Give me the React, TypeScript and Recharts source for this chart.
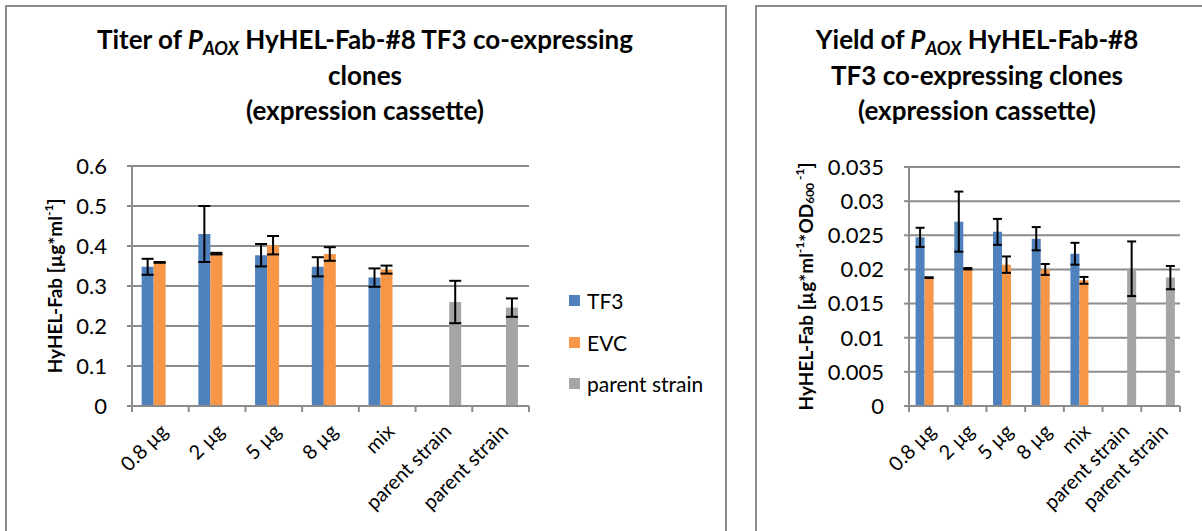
import React from "react";
import { BarChart, Bar, XAxis, YAxis, CartesianGrid, ErrorBar } from "recharts";

const categories = ["0.8 µg", "2 µg", "5 µg", "8 µg", "mix", "parent strain", "parent strain"];

// titer [µg/ml]
const titerTF3 = [0.348, 0.43, 0.377, 0.348, 0.321, null, null];
const titerTF3Err = [0.02, 0.07, 0.028, 0.024, 0.023, null, null];
const titerEVC = [0.359, 0.381, 0.402, 0.38, 0.341, null, null];
const titerEVCErr = [0.001, 0.002, 0.023, 0.017, 0.01, null, null];
const titerParent = [0.002, 0.002, 0.002, 0.002, 0.002, 0.26, 0.246];
const titerParentErr = [null, null, null, null, null, 0.053, 0.023];
const titerTicks = [0, 0.1, 0.2, 0.3, 0.4, 0.5, 0.6];

// yield [µg/ml/OD600]
const yieldTF3 = [0.0247, 0.027, 0.0255, 0.0245, 0.0223, null, null];
const yieldTF3Err = [0.0014, 0.0044, 0.0019, 0.0017, 0.0016, null, null];
const yieldEVC = [0.0188, 0.0201, 0.0207, 0.02, 0.0184, null, null];
const yieldEVCErr = [0.00005, 0.0001, 0.0012, 0.0008, 0.0005, null, null];
const yieldParent = [0.0001, 0.0001, 0.0001, 0.0001, 0.0001, 0.0201, 0.0188];
const yieldParentErr = [null, null, null, null, null, 0.004, 0.0017];
const yieldTicks = [0, 0.005, 0.01, 0.015, 0.02, 0.025, 0.03, 0.035];

const BLUE = "#4F81BD";
const ORANGE = "#F79646";
const GRAY = "#A5A5A5";
const LINE = "#8c8c8c";
const FONT = "Lato, 'DejaVu Sans', sans-serif";

function build(tf3, tf3e, evc, evce, par, pare) {
  return categories.map((c, i) => {
    const row: any = { name: c };
    if (tf3[i] != null) { row.tf3 = tf3[i]; row.tf3Err = tf3e[i]; }
    if (evc[i] != null) { row.evc = evc[i]; row.evcErr = evce[i]; }
    if (par[i] != null) row.parent = par[i];
    if (pare[i] != null) row.parentErr = pare[i];
    return row;
  });
}

const titerData = build(titerTF3, titerTF3Err, titerEVC, titerEVCErr, titerParent, titerParentErr);
const yieldData = build(yieldTF3, yieldTF3Err, yieldEVC, yieldEVCErr, yieldParent, yieldParentErr);

function CatTick(props: any) {
  const { x, y, payload, index, visibleTicksCount, bw } = props;
  const half = payload && payload.offset ? payload.offset : bw / 2;
  const tx = x + 3;
  const ty = y + 21;
  return (
    <g>
      <line x1={x - half} x2={x - half} y1={y} y2={y + 6} stroke={LINE} strokeWidth={2} />
      {index === visibleTicksCount - 1 && (
        <line x1={x + half} x2={x + half} y1={y} y2={y + 6} stroke={LINE} strokeWidth={2} />
      )}
      <text
        x={tx}
        y={ty}
        transform={`rotate(-45 ${tx} ${ty})`}
        textAnchor="end"
        dominantBaseline="central"
        fontSize={20}
        fontFamily={FONT}
        fill="#000"
      >
        {payload.value}
      </text>
    </g>
  );
}

function YTitle(props: any) {
  const { viewBox, cx, yield: isYield } = props;
  const tx = viewBox.x + cx;
  const ty = viewBox.y + viewBox.height / 2;
  return (
    <text
      x={tx}
      y={ty}
      transform={`rotate(-90 ${tx} ${ty})`}
      textAnchor="middle"
      dominantBaseline="central"
      fontSize={19}
      fontWeight={700}
      fontFamily={FONT}
      fill="#000"
    >
      HyHEL-Fab [µg*ml
      <tspan dy={-6} fontSize={12}>-1</tspan>
      {isYield ? (
        <>
          <tspan dy={6}>*OD</tspan>
          <tspan dy={4} fontSize={12}>600</tspan>
          <tspan dy={-10} fontSize={12}> -1</tspan>
          <tspan dy={6}>]</tspan>
        </>
      ) : (
        <tspan dy={6}>]</tspan>
      )}
    </text>
  );
}

function Title({ lines, left, width }) {
  return (
    <div
      style={{
        position: "absolute",
        left,
        top: 22,
        width,
        textAlign: "center",
        fontFamily: FONT,
        fontWeight: 700,
        fontSize: 26,
        lineHeight: "35.5px",
        color: "#000",
      }}
    >
      {lines.map((l, i) => (
        <div key={i} style={{ whiteSpace: "nowrap" }}>{l}</div>
      ))}
    </div>
  );
}

const Paox = () => (
  <>
    <i>P</i>
    <span style={{ fontSize: "0.7em", verticalAlign: "-0.35em", lineHeight: 0, fontStyle: "italic" }}>AOX</span>
  </>
);

function Chart({ data, ticks, domain, yWidth, marginRight, top, width, errW, cx, isYield, fmt }) {
  return (
    <BarChart
      width={width}
      height={531}
      data={data}
      margin={{ top, right: marginRight, bottom: 0, left: 0 }}
      barCategoryGap="17%"
      barGap={0}
    >
      <CartesianGrid vertical={false} stroke={LINE} strokeWidth={2} />
      <XAxis
        dataKey="name"
        height={531 - 406}
        axisLine={{ stroke: LINE, strokeWidth: 2 }}
        tickLine={false}
        tickSize={0}
        tickMargin={0}
        interval={0}
        tick={<CatTick bw={(width - yWidth - marginRight) / categories.length} />}
      />
      <YAxis
        width={yWidth}
        domain={domain}
        ticks={ticks}
        interval={0}
        tickFormatter={fmt}
        axisLine={{ stroke: LINE, strokeWidth: 2 }}
        tickLine={{ stroke: LINE, strokeWidth: 2 }}
        tickSize={5}
        tickMargin={20}
        tick={{ fontSize: 22, fontFamily: FONT, fill: "#000" }}
        label={<YTitle cx={cx} yield={isYield} />}
      />
      <Bar dataKey="tf3" fill={BLUE} isAnimationActive={false}>
        <ErrorBar dataKey="tf3Err" width={errW} stroke="#000" strokeWidth={2} direction="y" />
      </Bar>
      <Bar dataKey="evc" fill={ORANGE} isAnimationActive={false}>
        <ErrorBar dataKey="evcErr" width={errW} stroke="#000" strokeWidth={2} direction="y" />
      </Bar>
      <Bar dataKey="parent" fill={GRAY} isAnimationActive={false}>
        <ErrorBar dataKey="parentErr" width={errW} stroke="#000" strokeWidth={2} direction="y" />
      </Bar>
    </BarChart>
  );
}

const legendItems = [
  { label: "TF3", color: BLUE },
  { label: "EVC", color: ORANGE },
  { label: "parent strain", color: GRAY },
];

export default function App() {
  return (
    <div
      style={{
        position: "absolute",
        left: 0,
        top: 0,
        width: 1202,
        height: 531,
        overflow: "hidden",
        background: "#fff",
      }}
    >
      <div style={{ position: "absolute", left: 5, top: 5, width: 718, height: 600, border: `2px solid ${LINE}` }} />
      <div style={{ position: "absolute", left: 755, top: 5, width: 500, height: 600, border: `2px solid ${LINE}` }} />

      <Title
        left={5}
        width={720}
        lines={[
          <>Titer of <Paox /> HyHEL-Fab-#8 TF3 co-expressing</>,
          "clones",
          "(expression cassette)",
        ]}
      />
      <Title
        left={757}
        width={440}
        lines={[
          <>Yield of <Paox /> HyHEL-Fab-#8</>,
          "TF3 co-expressing clones",
          "(expression cassette)",
        ]}
      />

      <div style={{ position: "absolute", left: 0, top: 0 }}>
        <Chart
          data={titerData}
          ticks={titerTicks}
          domain={[0, 0.6]}
          yWidth={132}
          marginRight={191}
          top={166}
          width={720}
          errW={6}
          cx={54}
          isYield={false}
          fmt={(v) => String(v)}
        />
      </div>
      <div style={{ position: "absolute", left: 740, top: 0 }}>
        <Chart
          data={yieldData}
          ticks={yieldTicks}
          domain={[0, 0.035]}
          yWidth={169}
          marginRight={22}
          top={167}
          width={462}
          errW={4.5}
          cx={65}
          isYield={true}
          fmt={(v) => String(v)}
        />
      </div>

      <div style={{ position: "absolute", left: 569, top: 280, fontFamily: FONT, fontSize: 21 }}>
        {legendItems.map((it) => (
          <div key={it.label} style={{ display: "flex", alignItems: "center", height: 41.5, whiteSpace: "nowrap" }}>
            <div style={{ width: 11, height: 11, background: it.color, marginRight: 7 }} />
            <span>{it.label}</span>
          </div>
        ))}
      </div>
    </div>
  );
}
